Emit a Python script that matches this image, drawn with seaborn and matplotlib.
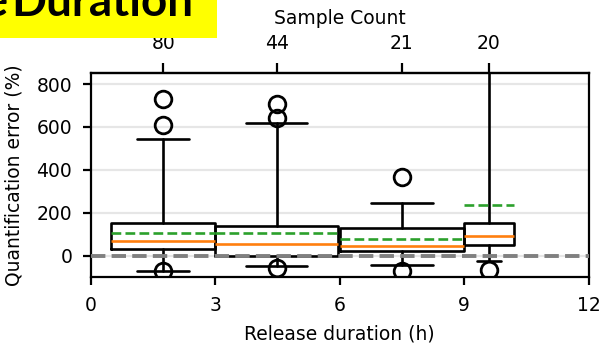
import matplotlib
matplotlib.use("Agg")
import matplotlib.pyplot as plt
import seaborn as sns
from matplotlib.patches import Rectangle

# ---- data ----
bin_edges = [0, 3, 6, 9, 12]
mean_duration = [1.745, 4.48, 7.5, 9.6]
sample_counts = [80, 44, 21, 20]
medians = [68, 53, 43, 91]
q1s = [29, 0, 20, 48]
q3s = [152, 138, 129, 152]
whis_lo = [-70, -50, -45, -25]
whis_hi = [545, 620, 247, 1000]
means = [105, 107, 77, 234]
fliers = [[607, 732, -72], [643, 705, -56], [367, -70], [-68]]
xticks = [0, 3, 6, 9, 12]
title_words = ['Release', 'Duration']

sns.set_theme(style="ticks")
plt.rcParams['font.family'] = ['DejaVu Sans']

FS = 13.5
fig = plt.figure(figsize=(6.01, 3.45), dpi=100)
ax = fig.add_axes([91 / 601, 1 - 277 / 345, (588.5 - 91) / 601, (277 - 73.3) / 345])

stats = []
widths = []
for i in range(len(mean_duration)):
    stats.append(dict(med=medians[i], q1=q1s[i], q3=q3s[i], whislo=whis_lo[i],
                      whishi=whis_hi[i], mean=means[i], fliers=fliers[i]))
    lo, hi = bin_edges[i], bin_edges[i + 1]
    widths.append(2 * min(mean_duration[i] - lo, hi - mean_duration[i]))

lw = 1.9
ax.bxp(stats, positions=mean_duration, widths=widths, showmeans=True, meanline=True,
       manage_ticks=False,
       boxprops=dict(color='black', lw=lw),
       whiskerprops=dict(color='black', lw=lw),
       capprops=dict(color='black', lw=lw),
       medianprops=dict(color='#ff7f0e', lw=lw),
       meanprops=dict(color='#2ca02c', lw=lw, linestyle='--'),
       flierprops=dict(marker='o', markerfacecolor='none', markeredgecolor='black',
                       markersize=12, markeredgewidth=2))

ax.axhline(0, color='gray', lw=2.8, ls='--', zorder=5)

ax.set_xlim(0, 12)
ax.set_ylim(-100, 850)
ax.set_xticks(xticks)
ax.set_yticks([0, 200, 400, 600, 800])
ax.yaxis.grid(True, color='#e6e6e6', lw=1.6)
ax.set_axisbelow(True)
for s in ax.spines.values():
    s.set_linewidth(1.6)
    s.set_color('black')
ax.tick_params(axis='both', which='major', labelsize=FS, length=6, width=1.6,
               pad=7.5, color='black', labelcolor='black', direction='out')
ax.set_xlabel('Release duration (h)', fontsize=FS, color='black', labelpad=7)
ax.set_ylabel('Quantification error (%)', fontsize=FS, color='black', labelpad=9)

top = ax.secondary_xaxis('top')
top.set_xticks(mean_duration)
top.set_xticklabels([str(c) for c in sample_counts])
top.tick_params(labelsize=FS, length=7, width=1.6, pad=7.5, color='black',
                labelcolor='black')
top.set_xlabel('Sample Count', fontsize=FS, color='black', labelpad=7)
top.spines['top'].set_linewidth(1.6)

# yellow title banner (partially outside the figure, as in the reference)
fig.patches.append(Rectangle((0, 1 - 38 / 345), 217 / 601, 38 / 345,
                             transform=fig.transFigure, facecolor='#ffff00',
                             edgecolor='none', zorder=0))
ty = 1 - 16 / 345
fig.text(8.5 / 601, ty, title_words[0], ha='right', va='baseline',
         fontsize=33, fontweight='bold', family=['Lato', 'DejaVu Sans'],
         color='black', zorder=2)
fig.text(11 / 601, ty, title_words[1], ha='left', va='baseline',
         fontsize=33, fontweight='bold', family=['Lato', 'DejaVu Sans'],
         color='black', zorder=2)

fig.savefig('out.png', dpi=100)
